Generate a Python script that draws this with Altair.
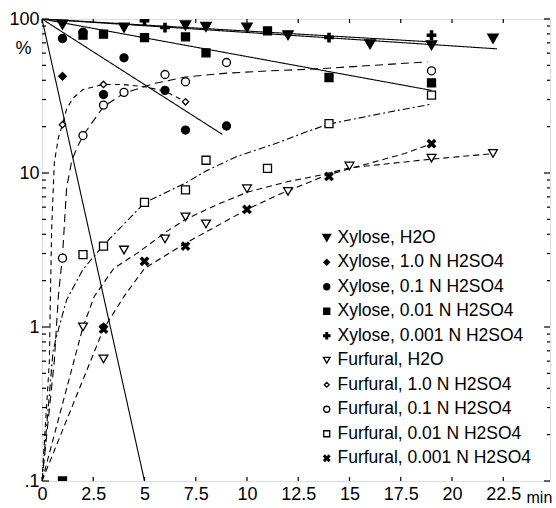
import altair as alt
import pandas as pd

FONT = "Liberation Sans"

series_names = [
    "Xylose, H2O", "Xylose, 1.0 N H2SO4", "Xylose, 0.1 N H2SO4",
    "Xylose, 0.01 N H2SO4", "Xylose, 0.001 N H2SO4",
    "Furfural, H2O", "Furfural, 1.0 N H2SO4", "Furfural, 0.1 N H2SO4",
    "Furfural, 0.01 N H2SO4", "Furfural, 0.001 N H2SO4",
]

# ---- measured points (time in min, %) ----
xyl_h2o_t = [1, 4, 7, 8, 10, 12, 16, 19, 22]
xyl_h2o_v = [92, 88, 91, 89, 88, 78.5, 68.6, 67.6, 74.7]
xyl_10_t = [1, 3]
xyl_10_v = [42.5, 1.0]
xyl_01_t = [1, 2, 3, 4, 6, 7, 9]
xyl_01_v = [74.7, 82, 32.3, 56, 34.4, 19, 20.2]
xyl_001_t = [1, 2, 3, 5, 7, 8, 11, 14, 19]
xyl_001_v = [0.1, 78.5, 79.7, 75.8, 76.6, 60.3, 83.8, 41.7, 38.5]
xyl_0001_t = [5, 6, 14, 19]
xyl_0001_v = [97.3, 88, 75.8, 78.5]

fur_h2o_t = [2, 3, 4, 6, 7, 8, 10, 12, 15, 19, 22]
fur_h2o_v = [1.0, 0.62, 3.16, 3.73, 5.19, 4.67, 7.9, 7.6, 11.1, 12.5, 13.4]
fur_10_t = [1, 3, 7]
fur_10_v = [20.6, 37.6, 29.0]
fur_01_t = [1, 2, 3, 4, 6, 7, 9, 19]
fur_01_v = [2.8, 17.5, 27.6, 33.4, 43.6, 39.1, 52.2, 46.1]
fur_001_t = [2, 3, 5, 7, 8, 11, 14, 19]
fur_001_v = [2.95, 3.35, 6.45, 7.77, 12.1, 10.7, 20.9, 32.0]
fur_0001_t = [3, 5, 7, 10, 14, 19]
fur_0001_v = [0.97, 2.67, 3.35, 5.8, 9.5, 15.5]

# ---- fitted lines (solid, xylose) ----
fit_xyl_h2o_t = [0, 22.2]
fit_xyl_h2o_v = [100, 64]
fit_xyl_0001_t = [0, 19]
fit_xyl_0001_v = [100, 71]
fit_xyl_001_t = [0, 19]
fit_xyl_001_v = [100, 34.4]
fit_xyl_01_t = [0, 8.8]
fit_xyl_01_v = [100, 17.8]
fit_xyl_10_t = [0, 5]
fit_xyl_10_v = [100, 0.1]

# ---- fitted curves (dashed, furfural) ----
fit_fur_h2o_t = [0, 2.0, 2.55, 3.5, 4.7, 6, 7, 8.5, 10, 12, 13.6, 15, 17.7, 19, 22.1]
fit_fur_h2o_v = [0.1, 1.0, 1.58, 2.4, 3.05, 4.1, 5.0, 6.2, 7.5, 8.8, 9.7, 10.8, 11.8, 12.3, 13.4]
fit_fur_10_t = [0, 0.36, 0.41, 0.47, 0.6, 0.8, 1.0, 1.2, 1.5, 2, 3, 4, 5, 6, 7]
fit_fur_10_v = [0.1, 0.6, 1.6, 4.3, 11.6, 17, 20.6, 26, 30.5, 34.8, 37.6, 37.5, 36.3, 34, 29]
fit_fur_01_t = [0, 0.6, 0.8, 1.0, 1.2, 1.45, 1.7, 2.0, 3.0, 4.0, 5.5, 7, 9, 11.2, 13.5, 18.8]
fit_fur_01_v = [0.1, 0.6, 1.6, 2.9, 8, 12, 14.5, 17.5, 27, 33, 38.2, 42, 44.5, 46.1, 47.5, 52.7]
fit_fur_001_t = [0, 0.54, 0.7, 1.2, 2.0, 3, 5, 7, 8, 9.5, 11.5, 12.8, 14, 17, 19]
fit_fur_001_v = [0.1, 0.7, 0.86, 1.5, 2.37, 3.4, 6.4, 8.6, 10.3, 12.8, 15.7, 18.3, 20.8, 25, 28]
fit_fur_0001_t = [0, 3.0, 4.0, 5, 7, 10, 11.5, 13.8, 17.7, 19]
fit_fur_0001_v = [0.1, 0.97, 1.58, 2.4, 3.5, 5.8, 7.2, 9.6, 13.4, 15.5]

# ---- axis ticks ----
x_ticks = [0, 2.5, 5, 7.5, 10, 12.5, 15, 17.5, 20, 22.5]
y_major = [0.1, 1, 10, 100]
y_minor = [0.2, 0.3, 0.4, 0.5, 0.6, 0.7, 0.8, 0.9,
           2, 3, 4, 5, 6, 7, 8, 9,
           20, 30, 40, 50, 60, 70, 80, 90]

pts_lists = [
    (xyl_h2o_t, xyl_h2o_v), (xyl_10_t, xyl_10_v), (xyl_01_t, xyl_01_v),
    (xyl_001_t, xyl_001_v), (xyl_0001_t, xyl_0001_v),
    (fur_h2o_t, fur_h2o_v), (fur_10_t, fur_10_v), (fur_01_t, fur_01_v),
    (fur_001_t, fur_001_v), (fur_0001_t, fur_0001_v),
]
rows = []
for name, (ts, vs) in zip(series_names, pts_lists):
    for t, v in zip(ts, vs):
        rows.append({"t": t, "v": v, "series": name})
pts = pd.DataFrame(rows)

curve_lists = [
    ("xh2o", fit_xyl_h2o_t, fit_xyl_h2o_v), ("x0001", fit_xyl_0001_t, fit_xyl_0001_v),
    ("x001", fit_xyl_001_t, fit_xyl_001_v), ("x01", fit_xyl_01_t, fit_xyl_01_v),
    ("x10", fit_xyl_10_t, fit_xyl_10_v),
    ("fh2o", fit_fur_h2o_t, fit_fur_h2o_v), ("f10", fit_fur_10_t, fit_fur_10_v),
    ("f01", fit_fur_01_t, fit_fur_01_v), ("f001", fit_fur_001_t, fit_fur_001_v),
    ("f0001", fit_fur_0001_t, fit_fur_0001_v),
]
crow = []
for cid, ts, vs in curve_lists:
    for t, v in zip(ts, vs):
        crow.append({"t": t, "v": v, "curve": cid})
curves = pd.DataFrame(crow)

W, H = 508, 462
XMAX = 24.78

xs = alt.Scale(domain=[0, XMAX], nice=False, zero=False)
ys = alt.Scale(type="log", domain=[0.1, 100], nice=False)

TRI_FILLED = "M-1.3,-1.1L1.3,-1.1L0,1.15Z"
DIAM_FILLED = "M0,-0.95L0.95,0L0,0.95L-0.95,0Z"
PLUS = "M-0.28,-1.05H0.28V-0.28H1.05V0.28H0.28V1.05H-0.28V0.28H-1.05V-0.28H-0.28Z"
TRI_OPEN = "M-1.1,-0.95L1.1,-0.95L0,0.95Z"
DIAM_OPEN = "M0,-0.8L0.8,0L0,0.8L-0.8,0Z"
X_PATH = "M-1,-0.62L-0.62,-1L0,-0.38L0.62,-1L1,-0.62L0.38,0L1,0.62L0.62,1L0,0.38L-0.62,1L-1,0.62L-0.38,0Z"

x_axis = alt.Axis(values=x_ticks, labelExpr="'' + datum.value", ticks=False, domain=False,
                  grid=False, labelFontSize=18, labelPadding=4, labelFlush=False,
                  labelOverlap=False, title="min", titleFontSize=16, titleFontWeight="normal",
                  titleAlign="left", titleBaseline="middle", titleX=484, titleY=16)
y_axis = alt.Axis(values=y_major, labelExpr="datum.value < 0.5 ? '.1' : '' + datum.value",
                  ticks=False, domain=False, grid=False, labelFontSize=18, labelPadding=3,
                  labelOverlap=False, title="%", titleAngle=0, titleFontSize=18,
                  titleFontWeight="normal", titleAlign="center", titleBaseline="middle",
                  titleX=-19, titleY=29)

lines = alt.Chart(curves).mark_line(clip=True, color="black", strokeWidth=1.1).encode(
    x=alt.X("t:Q", scale=xs, axis=x_axis),
    y=alt.Y("v:Q", scale=ys, axis=y_axis),
    detail="curve:N",
    strokeDash=alt.StrokeDash("curve:N", legend=None, scale=alt.Scale(
        domain=[c[0] for c in curve_lists],
        range=[[1, 0], [1, 0], [1, 0], [1, 0], [1, 0],
               [6, 4], [5, 4], [8, 5], [7, 3, 2, 3], [6, 4]])),
)

legend = alt.Legend(title=None, orient="none", legendX=276, legendY=210,
                    labelFontSize=17.5, labelFont=FONT, labelLimit=0, symbolSize=36,
                    symbolStrokeWidth=1.3, rowPadding=5.5, labelOffset=2, padding=0)

points = alt.Chart(pts).mark_point(clip=True, filled=True, opacity=1,
                                   strokeWidth=1.3, size=64).encode(
    x=alt.X("t:Q", scale=xs),
    y=alt.Y("v:Q", scale=ys),
    shape=alt.Shape("series:N", legend=legend, scale=alt.Scale(domain=series_names, range=[
        TRI_FILLED, DIAM_FILLED, "circle", "square", PLUS,
        TRI_OPEN, DIAM_OPEN, "circle", "square", X_PATH])),
    fill=alt.Fill("series:N", legend=legend, scale=alt.Scale(domain=series_names, range=[
        "black", "black", "black", "black", "black",
        "white", "white", "white", "white", "black"])),
    stroke=alt.Stroke("series:N", legend=legend, scale=alt.Scale(domain=series_names,
                                                  range=["black"] * 10)),
)

# inward tick marks on all four sides of the frame
ymaj = pd.DataFrame({"v": y_major})
ymin = pd.DataFrame({"v": y_minor})
xt = pd.DataFrame({"t": x_ticks})

left_major = alt.Chart(ymaj).mark_rule(color="black", strokeWidth=1.2).encode(
    y=alt.Y("v:Q", scale=ys), x=alt.value(0), x2=alt.value(7))
left_minor = alt.Chart(ymin).mark_rule(color="black", strokeWidth=1.2).encode(
    y=alt.Y("v:Q", scale=ys), x=alt.value(0), x2=alt.value(4))
right_major = alt.Chart(ymaj).mark_rule(color="black", strokeWidth=1.2).encode(
    y=alt.Y("v:Q", scale=ys), x=alt.value(W), x2=alt.value(W - 6))
right_minor = alt.Chart(ymin).mark_rule(color="black", strokeWidth=1.2).encode(
    y=alt.Y("v:Q", scale=ys), x=alt.value(W), x2=alt.value(W - 3))
top_ticks = alt.Chart(xt).mark_rule(color="black", strokeWidth=1.2).encode(
    x=alt.X("t:Q", scale=xs), y=alt.value(0), y2=alt.value(4))
bottom_ticks = alt.Chart(xt).mark_rule(color="black", strokeWidth=1.2).encode(
    x=alt.X("t:Q", scale=xs), y=alt.value(H), y2=alt.value(H - 4))

chart = alt.layer(
    left_major, left_minor, right_major, right_minor, top_ticks, bottom_ticks,
    lines, points,
).properties(
    width=W, height=H,
    autosize=alt.AutoSizeParams(type="none"),
    padding={"left": 42, "top": 19, "right": 6, "bottom": 27},
    background="white",
).configure_view(
    stroke="black", strokeWidth=1.6,
).configure(
    font=FONT,
).configure_axis(
    labelColor="black", titleColor="black", labelFont=FONT, titleFont=FONT,
).configure_legend(
    labelColor="black",
)

chart.save("out.html", embed_options={"renderer": "svg", "actions": False})
